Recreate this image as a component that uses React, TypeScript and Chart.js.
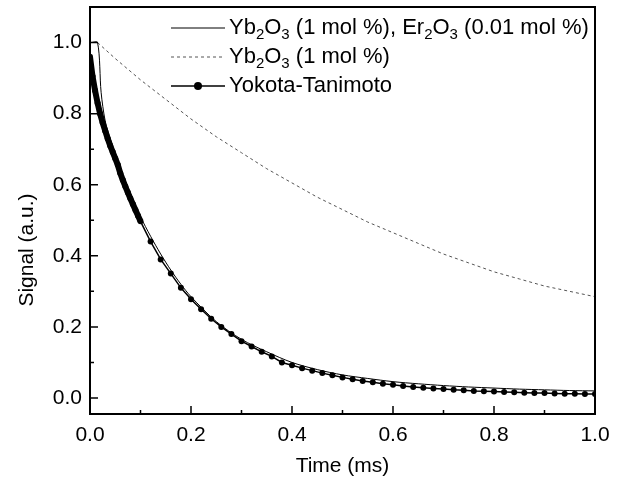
import React, { useEffect, useRef } from "react";
import { Chart, registerables } from "chart.js";

Chart.register(...registerables);

// ---- Data ----
// Yokota-Tanimoto fit: dense region (0 - 0.1 ms) and sparse points
const ytTimes = [
  0, 0.005, 0.01, 0.015, 0.02, 0.025, 0.03, 0.035, 0.04, 0.045, 0.05, 0.055,
  0.06, 0.065, 0.07, 0.075, 0.08, 0.085, 0.09, 0.095, 0.1,
  0.12, 0.14, 0.16, 0.18, 0.2, 0.22, 0.24, 0.26, 0.28, 0.3, 0.32, 0.34, 0.36,
  0.38, 0.4, 0.42, 0.44, 0.46, 0.48, 0.5, 0.52, 0.54, 0.56, 0.58, 0.6, 0.62,
  0.64, 0.66, 0.68, 0.7, 0.72, 0.74, 0.76, 0.78, 0.8, 0.82, 0.84, 0.86, 0.88,
  0.9, 0.92, 0.94, 0.96, 0.98, 1.0,
];
const ytSignal = [
  0.96, 0.905, 0.865, 0.83, 0.8, 0.775, 0.752, 0.73, 0.71, 0.692, 0.674, 0.656,
  0.632, 0.613, 0.595, 0.578, 0.561, 0.545, 0.529, 0.513, 0.497,
  0.44, 0.39, 0.35, 0.31, 0.278, 0.25, 0.223, 0.2, 0.18, 0.16, 0.145, 0.13,
  0.117, 0.1, 0.092, 0.084, 0.077, 0.07, 0.064, 0.058, 0.053, 0.048, 0.044,
  0.04, 0.037, 0.034, 0.031, 0.029, 0.027, 0.025, 0.023, 0.022, 0.02, 0.019,
  0.018, 0.017, 0.016, 0.015, 0.014, 0.014, 0.013, 0.012, 0.012, 0.011, 0.011,
];
const ytDenseEnd = 0.1; // data up to here is so dense it reads as a thick band

// Yb2O3 (1 mol %), Er2O3 (0.01 mol %) — solid line
const ybErTimes = [
  0.002, 0.015, 0.022, 0.03, 0.04, 0.06, 0.08, 0.1, 0.12, 0.14, 0.16, 0.18,
  0.2, 0.25, 0.3, 0.35, 0.4, 0.45, 0.5, 0.55, 0.6, 0.65, 0.7, 0.75, 0.8, 0.85,
  0.9, 0.95, 1.0,
];
const ybErSignal = [
  1.0, 1.0, 0.86, 0.78, 0.73, 0.645, 0.575, 0.51, 0.455, 0.405, 0.36, 0.32,
  0.285, 0.215, 0.165, 0.13, 0.1, 0.08, 0.065, 0.055, 0.046, 0.04, 0.035,
  0.031, 0.028, 0.025, 0.023, 0.021, 0.02,
];

// Yb2O3 (1 mol %) — dashed line
const ybTimes = [
  0.015, 0.05, 0.1, 0.15, 0.2, 0.25, 0.3, 0.35, 0.4, 0.45, 0.5, 0.55, 0.6,
  0.65, 0.7, 0.75, 0.8, 0.85, 0.9, 0.95, 1.0,
];
const ybSignal = [
  1.0, 0.955, 0.895, 0.84, 0.785, 0.735, 0.69, 0.645, 0.605, 0.565, 0.53,
  0.495, 0.465, 0.435, 0.405, 0.38, 0.355, 0.335, 0.315, 0.3, 0.285,
];

const xMajorTicks = [0, 0.2, 0.4, 0.6, 0.8, 1.0];
const xMinorTicks = [0.1, 0.3, 0.5, 0.7, 0.9];
const yMajorTicks = [0, 0.2, 0.4, 0.6, 0.8, 1.0];
const yMinorTicks = [0.1, 0.3, 0.5, 0.7, 0.9];

const xTitle = "Time (ms)";
const yTitle = "Signal (a.u.)";

type Part = { t: string; sub?: boolean };
const legendItems: { parts: Part[]; style: "solid" | "dashed" | "dots" }[] = [
  {
    parts: [
      { t: "Yb" }, { t: "2", sub: true }, { t: "O" }, { t: "3", sub: true },
      { t: " (1 mol %), Er" }, { t: "2", sub: true }, { t: "O" },
      { t: "3", sub: true }, { t: " (0.01 mol %)" },
    ],
    style: "solid",
  },
  {
    parts: [
      { t: "Yb" }, { t: "2", sub: true }, { t: "O" }, { t: "3", sub: true },
      { t: " (1 mol %)" },
    ],
    style: "dashed",
  },
  { parts: [{ t: "Yokota-Tanimoto" }], style: "dots" },
];

const FONT = "Liberation Sans, Arial, Helvetica, sans-serif";
const FS = 21;
const LFS = 22;

const pts = (xs: number[], ys: number[]) => xs.map((x, i) => ({ x, y: ys[i] }));

const decorPlugin = {
  id: "decor",
  afterDraw(chart: any) {
    const { ctx, chartArea: a, scales } = chart;
    const xs = scales.x;
    const ys = scales.y;
    ctx.save();
    // frame
    ctx.strokeStyle = "#000";
    ctx.lineWidth = 2;
    ctx.strokeRect(a.left, a.top, a.right - a.left, a.bottom - a.top);
    // inward ticks
    ctx.lineWidth = 1.5;
    ctx.beginPath();
    xMajorTicks.forEach((v) => {
      const p = xs.getPixelForValue(v);
      ctx.moveTo(p, a.bottom);
      ctx.lineTo(p, a.bottom - 8);
    });
    xMinorTicks.forEach((v) => {
      const p = xs.getPixelForValue(v);
      ctx.moveTo(p, a.bottom);
      ctx.lineTo(p, a.bottom - 4);
    });
    yMajorTicks.forEach((v) => {
      const p = ys.getPixelForValue(v);
      ctx.moveTo(a.left, p);
      ctx.lineTo(a.left + 8, p);
    });
    yMinorTicks.forEach((v) => {
      const p = ys.getPixelForValue(v);
      ctx.moveTo(a.left, p);
      ctx.lineTo(a.left + 4, p);
    });
    ctx.stroke();

    // axis titles
    ctx.fillStyle = "#000";
    ctx.font = `${FS}px ${FONT}`;
    ctx.textAlign = "center";
    ctx.textBaseline = "middle";
    ctx.fillText(xTitle, (a.left + a.right) / 2, 466);
    ctx.save();
    ctx.translate(27, 250);
    ctx.rotate(-Math.PI / 2);
    ctx.fillText(yTitle, 0, 0);
    ctx.restore();

    // legend
    const lineX0 = 171;
    const lineX1 = 225;
    const textX = 229;
    const rowY = [28, 57, 86];
    legendItems.forEach((item, i) => {
      const y = rowY[i];
      ctx.save();
      ctx.strokeStyle = item.style === "dashed" ? "#555" : "#000";
      ctx.lineWidth = item.style === "dots" ? 1.5 : 1;
      if (item.style === "dashed") ctx.setLineDash([3, 3]);
      ctx.beginPath();
      ctx.moveTo(lineX0, y);
      ctx.lineTo(lineX1, y);
      ctx.stroke();
      ctx.restore();
      if (item.style === "dots") {
        ctx.beginPath();
        ctx.arc((lineX0 + lineX1) / 2, y, 4, 0, Math.PI * 2);
        ctx.fill();
      }
      let x = textX;
      ctx.textAlign = "left";
      ctx.textBaseline = "middle";
      item.parts.forEach((p) => {
        if (p.sub) {
          ctx.font = `${Math.round(LFS * 0.68)}px ${FONT}`;
          ctx.fillText(p.t, x, y + 7);
        } else {
          ctx.font = `${LFS}px ${FONT}`;
          ctx.fillText(p.t, x, y);
        }
        x += ctx.measureText(p.t).width;
      });
    });
    ctx.restore();
  },
};

export default function App() {
  const ref = useRef<HTMLCanvasElement | null>(null);
  useEffect(() => {
    document.body.style.margin = "0";
    const canvas = ref.current;
    if (!canvas) return;
    const chart = new Chart(canvas, {
      type: "scatter",
      data: {
        datasets: [
          {
            label: "Yokota-Tanimoto",
            data: pts(ytTimes, ytSignal),
            showLine: true,
            borderColor: "#000",
            borderWidth: 1.5,
            segment: {
              borderWidth: (c: any) => (c.p1.parsed.x <= ytDenseEnd ? 6 : 1.5),
            },
            pointRadius: 3,
            pointBackgroundColor: "#000",
            pointBorderColor: "#000",
            pointBorderWidth: 0,
          },
          {
            label: "Yb2O3 (1 mol %), Er2O3 (0.01 mol %)",
            data: pts(ybErTimes, ybErSignal),
            showLine: true,
            borderColor: "#000",
            borderWidth: 1,
            pointRadius: 0,
            tension: 0.3,
          },
          {
            label: "Yb2O3 (1 mol %)",
            data: pts(ybTimes, ybSignal),
            showLine: true,
            borderColor: "#555",
            borderWidth: 1,
            borderDash: [3, 3],
            pointRadius: 0,
          },
        ],
      },
      options: {
        animation: false,
        responsive: false,
        devicePixelRatio: 1,
        layout: { padding: { top: 7, right: 38, left: 0, bottom: 0 } },
        plugins: {
          legend: { display: false },
          tooltip: { enabled: false },
        },
        scales: {
          x: {
            type: "linear",
            min: 0,
            max: 1,
            grid: { display: false, drawTicks: false },
            border: { display: false },
            afterBuildTicks: (s: any) => {
              s.ticks = xMajorTicks.map((v) => ({ value: v }));
            },
            afterFit: (s: any) => {
              s.height = 69;
              s.paddingLeft = 0;
              s.paddingRight = 0;
            },
            ticks: {
              color: "#000",
              font: { family: FONT, size: FS },
              padding: 9,
              maxRotation: 0,
              callback: (v: any) => Number(v).toFixed(1),
            },
          },
          y: {
            type: "linear",
            min: -0.045,
            max: 1.1,
            grid: { display: false, drawTicks: false },
            border: { display: false },
            afterBuildTicks: (s: any) => {
              s.ticks = yMajorTicks.map((v) => ({ value: v }));
            },
            afterFit: (s: any) => {
              s.width = 90;
              s.paddingTop = 0;
              s.paddingBottom = 0;
            },
            ticks: {
              color: "#000",
              font: { family: FONT, size: FS },
              padding: 8,
              callback: (v: any) => Number(v).toFixed(1),
            },
          },
        },
      },
      plugins: [decorPlugin],
    });
    return () => chart.destroy();
  }, []);
  return (
    <div style={{ position: "relative", width: 633, height: 483 }}>
      <canvas ref={ref} width={633} height={483} style={{ display: "block" }} />
    </div>
  );
}
